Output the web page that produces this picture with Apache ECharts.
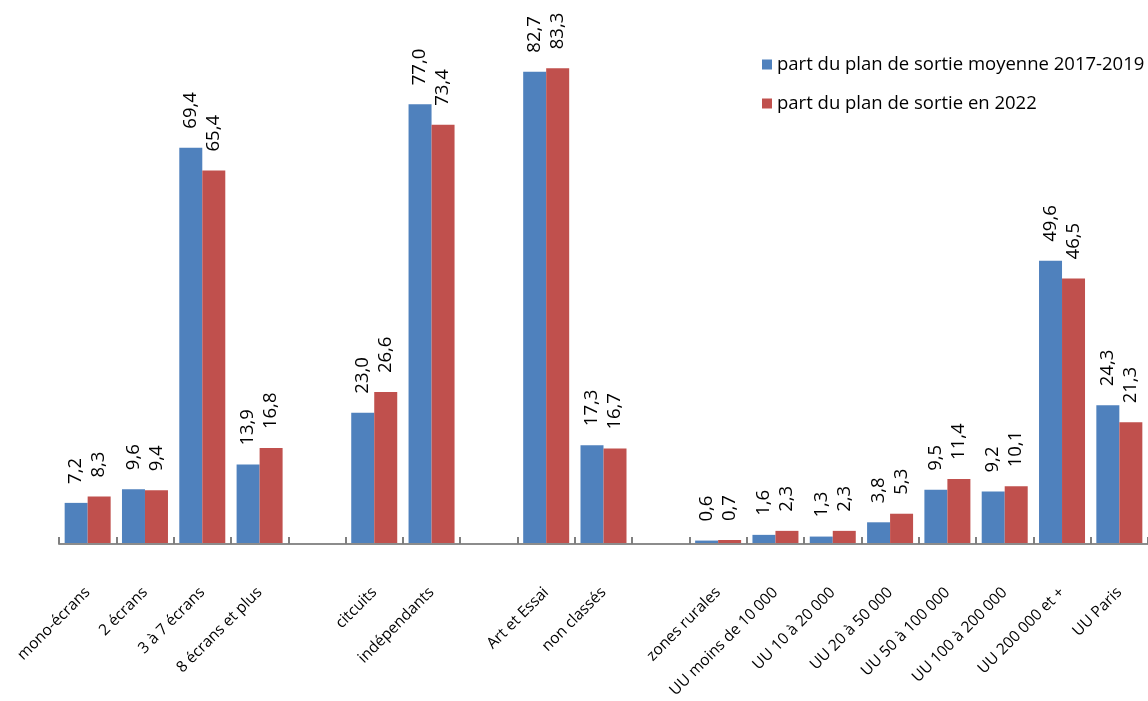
<!DOCTYPE html>
<html>
<head>
<meta charset="utf-8">
<script src="https://cdn.jsdelivr.net/npm/echarts@6/dist/echarts.min.js"></script>
<style>
  html, body { margin: 0; padding: 0; background: #fff; }
  #chart { width: 1148px; height: 701px; }
</style>
</head>
<body>
<div id="chart"></div>
<script>
// empty strings are the gaps between the groups
var categories = [
  'mono-écrans', '2 écrans', '3 à 7 écrans', '8 écrans et plus', '',
  'citcuits', 'indépendants', '',
  'Art et Essai', 'non classés', '',
  'zones rurales', 'UU moins de 10 000', 'UU 10 à 20 000', 'UU 20 à 50 000',
  'UU 50 à 100 000', 'UU 100 à 200 000', 'UU 200 000 et +', 'UU Paris'
];
var moyenne = [7.2, 9.6, 69.4, 13.9, '-', 23.0, 77.0, '-', 82.7, 17.3, '-',
  0.6, 1.6, 1.3, 3.8, 9.5, 9.2, 49.6, 24.3];
var en2022 = [8.3, 9.4, 65.4, 16.8, '-', 26.6, 73.4, '-', 83.3, 16.7, '-',
  0.7, 2.3, 2.3, 5.3, 11.4, 10.1, 46.5, 21.3];

var chart = echarts.init(document.getElementById('chart'));

var font = '"Open Sans", sans-serif';

function barLabel() {
  return {
    show: true,
    position: 'top',
    rotate: 90,
    align: 'left',
    verticalAlign: 'middle',
    distance: 19,
    fontFamily: font,
    fontSize: 18.5,
    color: '#000',
    formatter: function (p) {
      return p.value.toFixed(1).replace('.', ',');
    }
  };
}

var option = {
  animation: false,
  textStyle: { fontFamily: font },
  legend: {
    orient: 'vertical',
    left: 757,
    top: 50,
    itemWidth: 10,
    itemHeight: 10,
    itemGap: 20,
    icon: 'rect',
    textStyle: { fontSize: 18.5, color: '#000', fontFamily: font },
    data: ['part du plan de sortie moyenne 2017-2019', 'part du plan de sortie en 2022']
  },
  grid: { left: 59, top: 30, width: 1094, height: 514 },
  xAxis: {
    type: 'category',
    data: categories,
    z: 5,
    axisLine: { show: true, lineStyle: { color: '#8c8c8c', width: 2 } },
    axisTick: {
      show: true,
      inside: true,
      interval: 0,
      length: 7,
      lineStyle: { color: '#7f7f7f', width: 2 }
    },
    axisLabel: {
      interval: 0,
      rotate: 45,
      margin: 46,
      fontSize: 15.5,
      color: '#000',
      fontFamily: font
    }
  },
  yAxis: {
    type: 'value',
    min: 0,
    max: 90,
    show: false,
    splitLine: { show: false }
  },
  series: [
    {
      name: 'part du plan de sortie moyenne 2017-2019',
      type: 'bar',
      data: moyenne,
      barWidth: 23,
      barGap: '0%',
      itemStyle: { color: '#4f81bd' },
      label: barLabel()
    },
    {
      name: 'part du plan de sortie en 2022',
      type: 'bar',
      data: en2022,
      barWidth: 23,
      barGap: '0%',
      itemStyle: { color: '#c0504d' },
      label: barLabel()
    }
  ]
};

chart.setOption(option);

window.addEventListener('resize', function () {
  chart.resize();
});
</script>
</body>
</html>
